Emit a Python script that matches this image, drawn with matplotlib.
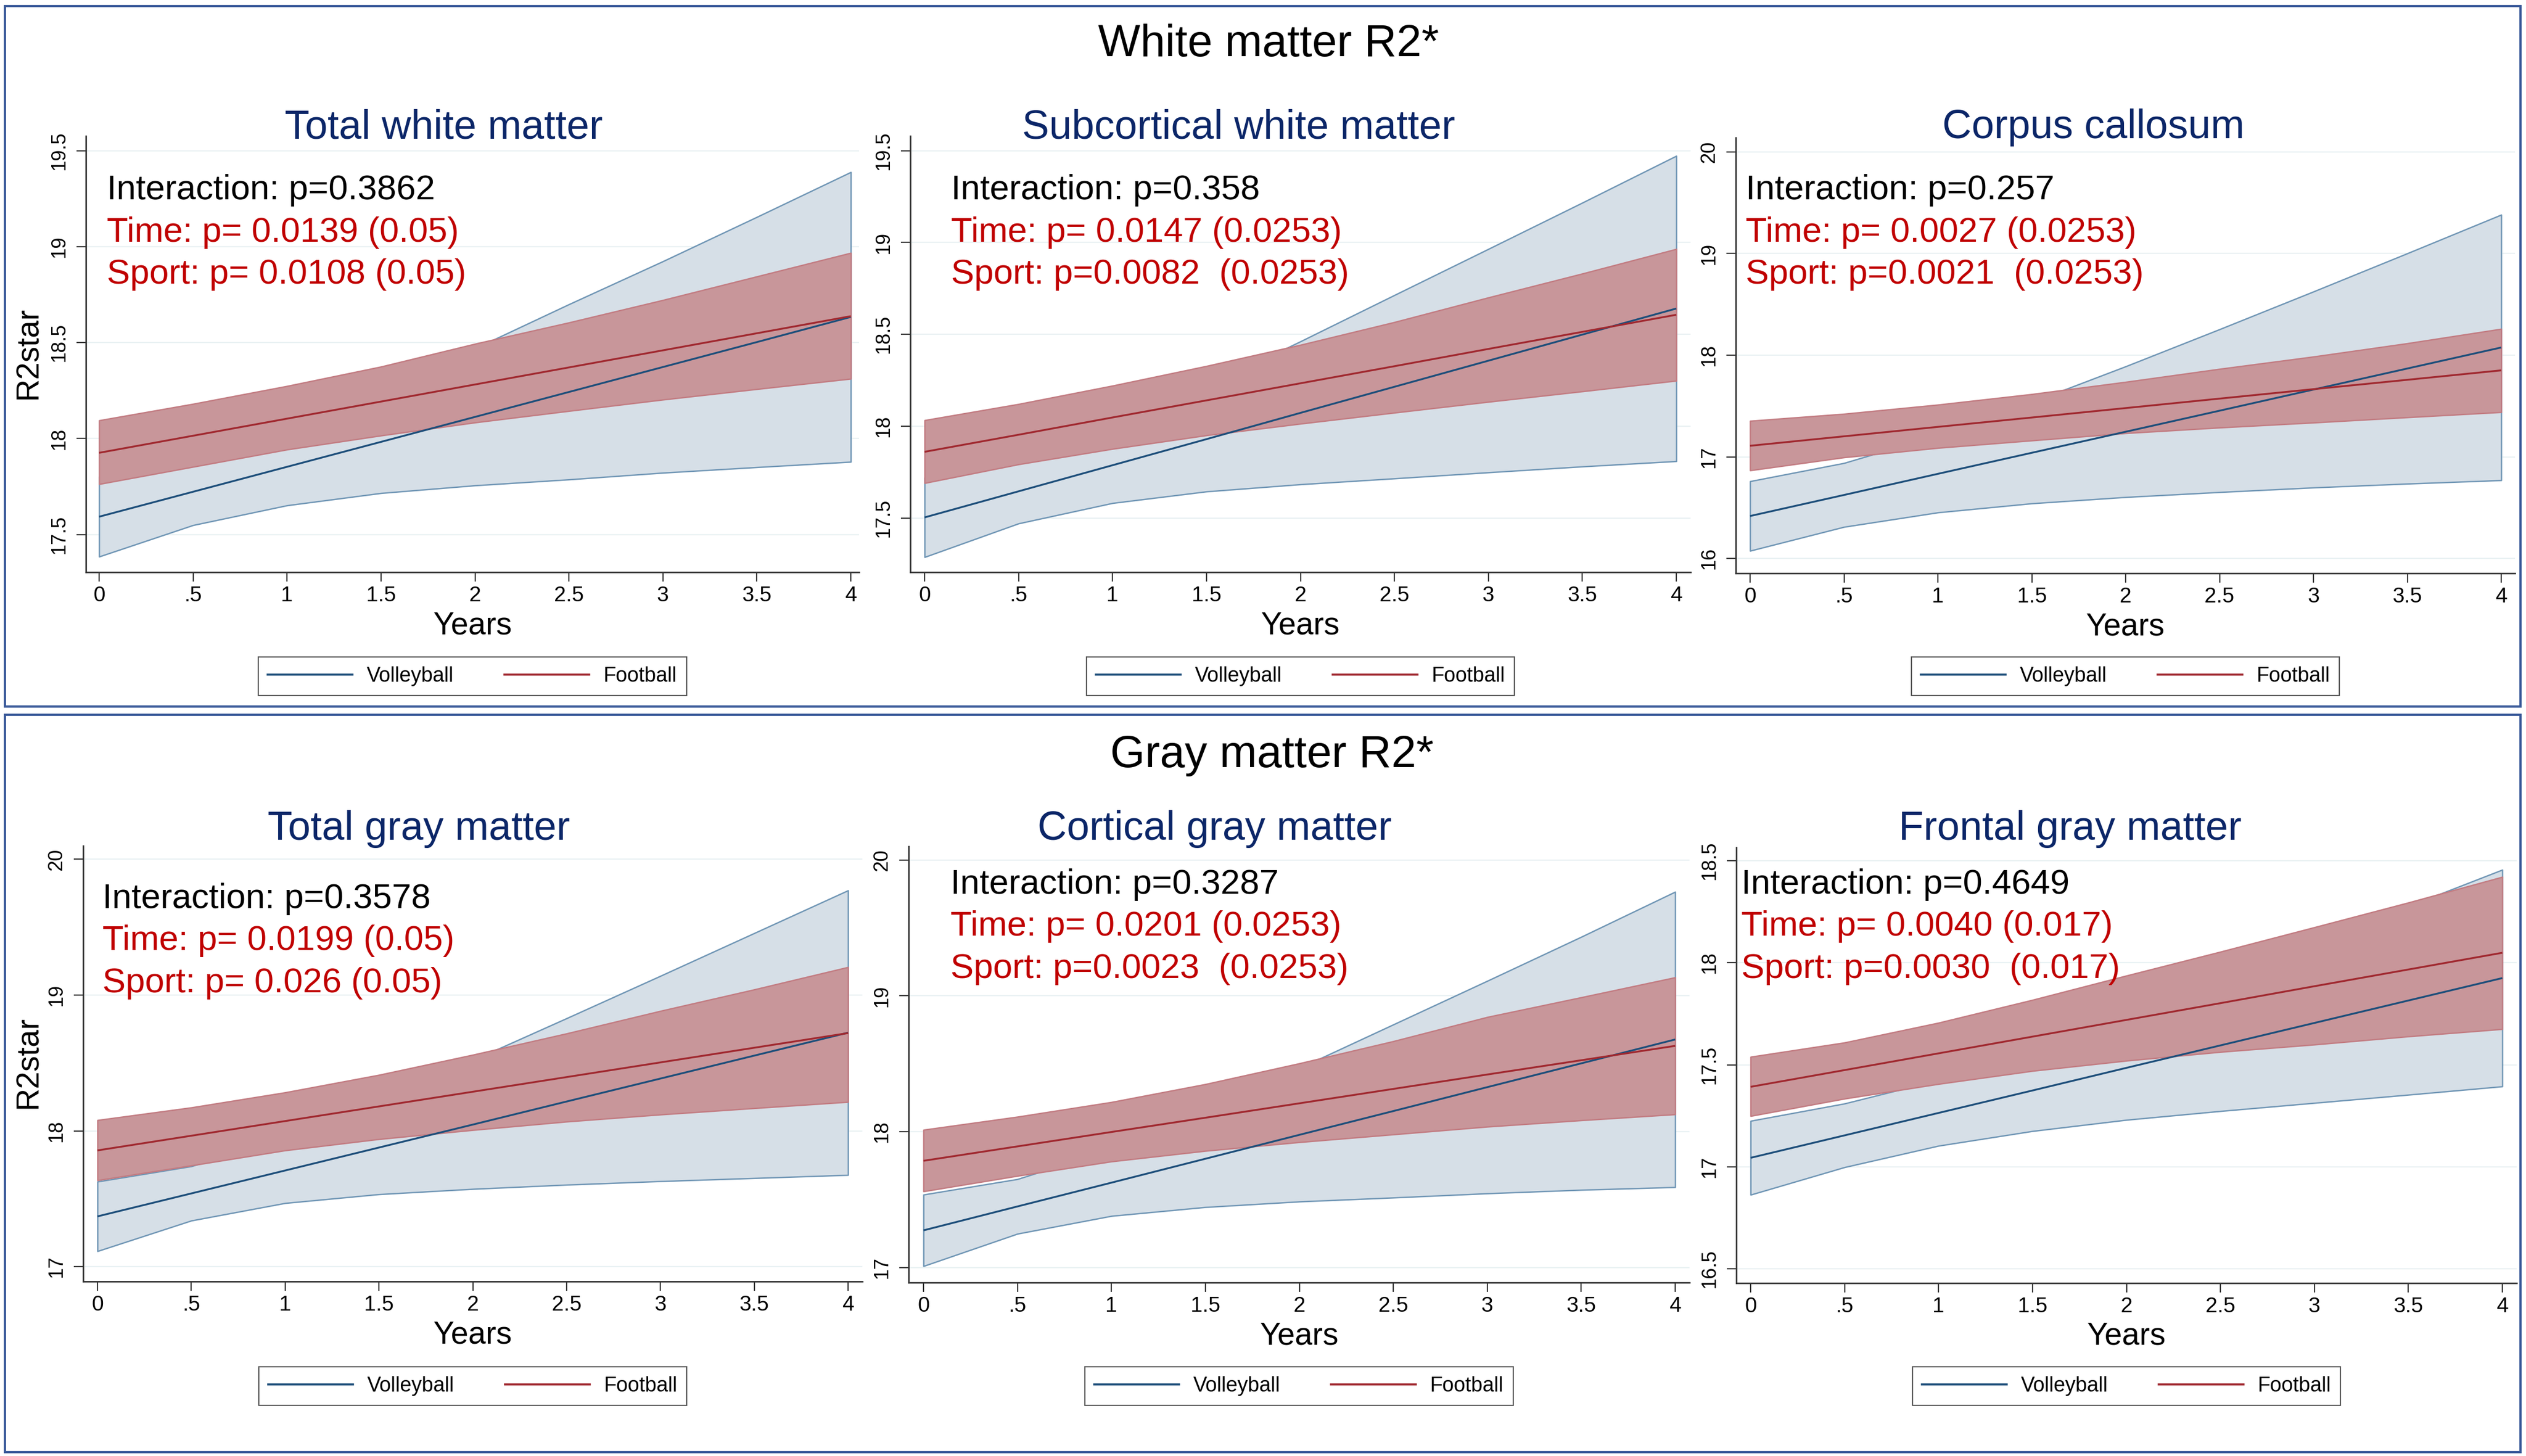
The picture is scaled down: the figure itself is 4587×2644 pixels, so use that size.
import matplotlib
matplotlib.use('Agg')
import matplotlib.pyplot as plt
from matplotlib.lines import Line2D
from matplotlib.patches import Rectangle

plt.rcParams['font.family'] = ['Liberation Sans', 'DejaVu Sans']

# ---------------- data ----------------
years = [0, 0.5, 1, 1.5, 2, 2.5, 3, 3.5, 4]
x_tick_labels = ['0', '.5', '1', '1.5', '2', '2.5', '3', '3.5', '4']
groups = ['Volleyball', 'Football']

# Total white matter
twm_vb_mean = [17.593, 17.723, 17.853, 17.983, 18.113, 18.243, 18.373, 18.503, 18.634]
twm_vb_lo = [17.385, 17.549, 17.652, 17.716, 17.756, 17.787, 17.822, 17.851, 17.879]
twm_vb_hi = [17.801, 17.897, 18.054, 18.250, 18.470, 18.700, 18.924, 19.155, 19.389]
twm_fb_mean = [17.926, 18.015, 18.104, 18.193, 18.282, 18.371, 18.460, 18.549, 18.638]
twm_fb_lo = [17.763, 17.853, 17.943, 18.016, 18.084, 18.144, 18.203, 18.258, 18.312]
twm_fb_hi = [18.095, 18.181, 18.274, 18.375, 18.494, 18.605, 18.722, 18.845, 18.968]
twm_yticks = [17.5, 18, 18.5, 19, 19.5]
twm_ylabels = ['17.5', '18', '18.5', '19', '19.5']
twm_notes = ['Interaction: p=0.3862', 'Time: p= 0.0139 (0.05)', 'Sport: p= 0.0108 (0.05)']

# Subcortical white matter
swm_vb_mean = [17.504, 17.646, 17.788, 17.930, 18.073, 18.215, 18.357, 18.499, 18.641]
swm_vb_lo = [17.288, 17.471, 17.582, 17.645, 17.684, 17.716, 17.749, 17.781, 17.810]
swm_vb_hi = [17.720, 17.821, 17.994, 18.215, 18.462, 18.714, 18.965, 19.217, 19.472]
swm_fb_mean = [17.861, 17.954, 18.048, 18.141, 18.234, 18.327, 18.421, 18.514, 18.607]
swm_fb_lo = [17.691, 17.793, 17.877, 17.951, 18.014, 18.074, 18.133, 18.190, 18.248]
swm_fb_hi = [18.033, 18.121, 18.221, 18.328, 18.443, 18.567, 18.701, 18.831, 18.965]
swm_yticks = [17.5, 18, 18.5, 19, 19.5]
swm_ylabels = ['17.5', '18', '18.5', '19', '19.5']
swm_notes = ['Interaction: p=0.358', 'Time: p= 0.0147 (0.0253)', 'Sport: p=0.0082  (0.0253)']

# Corpus callosum
cc_vb_mean = [16.418, 16.625, 16.833, 17.040, 17.247, 17.454, 17.662, 17.869, 18.076]
cc_vb_lo = [16.076, 16.311, 16.453, 16.542, 16.604, 16.653, 16.698, 16.736, 16.770]
cc_vb_hi = [16.760, 16.939, 17.213, 17.538, 17.890, 18.255, 18.626, 19.002, 19.382]
cc_fb_mean = [17.109, 17.202, 17.295, 17.387, 17.480, 17.573, 17.666, 17.758, 17.851]
cc_fb_lo = [16.867, 16.995, 17.088, 17.161, 17.233, 17.288, 17.337, 17.389, 17.440]
cc_fb_hi = [17.354, 17.423, 17.513, 17.617, 17.737, 17.865, 17.986, 18.117, 18.259]
cc_yticks = [16, 17, 18, 19, 20]
cc_ylabels = ['16', '17', '18', '19', '20']
cc_notes = ['Interaction: p=0.257', 'Time: p= 0.0027 (0.0253)', 'Sport: p=0.0021  (0.0253)']

# Total gray matter
tgm_vb_mean = [17.370, 17.539, 17.708, 17.877, 18.046, 18.216, 18.385, 18.554, 18.723]
tgm_vb_lo = [17.114, 17.339, 17.468, 17.533, 17.572, 17.603, 17.629, 17.652, 17.675]
tgm_vb_hi = [17.626, 17.739, 17.948, 18.221, 18.520, 18.829, 19.141, 19.456, 19.771]
tgm_fb_mean = [17.856, 17.964, 18.072, 18.180, 18.288, 18.396, 18.504, 18.612, 18.720]
tgm_fb_lo = [17.636, 17.745, 17.856, 17.939, 18.006, 18.068, 18.120, 18.167, 18.213]
tgm_fb_hi = [18.079, 18.172, 18.283, 18.412, 18.560, 18.717, 18.883, 19.041, 19.206]
tgm_yticks = [17, 18, 19, 20]
tgm_ylabels = ['17', '18', '19', '20']
tgm_notes = ['Interaction: p=0.3578', 'Time: p= 0.0199 (0.05)', 'Sport: p= 0.026 (0.05)']

# Cortical gray matter
cgm_vb_mean = [17.274, 17.450, 17.625, 17.801, 17.977, 18.152, 18.328, 18.503, 18.679]
cgm_vb_lo = [17.011, 17.249, 17.380, 17.445, 17.486, 17.515, 17.546, 17.572, 17.592]
cgm_vb_hi = [17.537, 17.651, 17.870, 18.157, 18.468, 18.789, 19.110, 19.434, 19.766]
cgm_fb_mean = [17.786, 17.892, 17.998, 18.103, 18.209, 18.315, 18.421, 18.526, 18.632]
cgm_fb_lo = [17.561, 17.675, 17.781, 17.859, 17.923, 17.980, 18.037, 18.084, 18.128]
cgm_fb_hi = [18.014, 18.110, 18.218, 18.350, 18.503, 18.666, 18.844, 18.989, 19.136]
cgm_yticks = [17, 18, 19, 20]
cgm_ylabels = ['17', '18', '19', '20']
cgm_notes = ['Interaction: p=0.3287', 'Time: p= 0.0201 (0.0253)', 'Sport: p=0.0023  (0.0253)']

# Frontal gray matter
fgm_vb_mean = [17.044, 17.154, 17.264, 17.374, 17.485, 17.595, 17.705, 17.815, 17.925]
fgm_vb_lo = [16.863, 16.998, 17.103, 17.175, 17.230, 17.273, 17.313, 17.353, 17.394]
fgm_vb_hi = [17.225, 17.310, 17.425, 17.573, 17.740, 17.917, 18.097, 18.277, 18.456]
fgm_fb_mean = [17.392, 17.474, 17.556, 17.638, 17.720, 17.802, 17.885, 17.967, 18.049]
fgm_fb_lo = [17.249, 17.334, 17.406, 17.470, 17.520, 17.563, 17.599, 17.639, 17.675]
fgm_fb_hi = [17.539, 17.609, 17.706, 17.818, 17.937, 18.054, 18.174, 18.295, 18.421]
fgm_yticks = [16.5, 17, 17.5, 18, 18.5]
fgm_ylabels = ['16.5', '17', '17.5', '18', '18.5']
fgm_notes = ['Interaction: p=0.4649', 'Time: p= 0.0040 (0.017)', 'Sport: p=0.0030  (0.017)']

titles = ['Total white matter', 'Subcortical white matter', 'Corpus callosum',
          'Total gray matter', 'Cortical gray matter', 'Frontal gray matter']
section_titles = ['White matter R2*', 'Gray matter R2*']

# ---------------- layout / style ----------------
W, H = 4587, 2644
fig = plt.figure(figsize=(W / 100, H / 100), dpi=100)
fig.patch.set_facecolor('white')

def fx(x):
    return x / W

def fy(y):
    return 1 - y / H

VB_LINE = '#1D4E7A'
VB_FILL = '#D6DFE7'
VB_EDGE = '#7096B5'
FB_LINE = '#A0282F'
FB_FILL = '#C8969A'
FB_EDGE = '#C27C82'
TITLE_C = '#0B2668'
NOTE_RED = '#C00000'
BOX_C = '#3A5A9A'
AX_C = '#333333'

panels = [
    dict(d=(twm_vb_mean, twm_vb_lo, twm_vb_hi, twm_fb_mean, twm_fb_lo, twm_fb_hi), yt=twm_yticks, yl=twm_ylabels, notes=twm_notes,
         box=(156, 1560, 247, 1039), x0=180, x4=1545, ylim=(17.304, 19.577), tx=806, tb=251, nx=194, nb=362, leg=1228, yb=1152, ylab=True),
    dict(d=(swm_vb_mean, swm_vb_lo, swm_vb_hi, swm_fb_mean, swm_fb_lo, swm_fb_hi), yt=swm_yticks, yl=swm_ylabels, notes=swm_notes,
         box=(1653, 3070, 247, 1039), x0=1679, x4=3044, ylim=(17.206, 19.58), tx=2249, tb=251, nx=1727, nb=362, leg=1228, yb=1152, ylab=False),
    dict(d=(cc_vb_mean, cc_vb_lo, cc_vb_hi, cc_fb_mean, cc_fb_lo, cc_fb_hi), yt=cc_yticks, yl=cc_ylabels, notes=cc_notes,
         box=(3152, 4567, 250, 1041), x0=3178, x4=4542, ylim=(15.855, 20.14), tx=3801, tb=251, nx=3170, nb=362, leg=1228, yb=1153, ylab=False),
    dict(d=(tgm_vb_mean, tgm_vb_lo, tgm_vb_hi, tgm_fb_mean, tgm_fb_lo, tgm_fb_hi), yt=tgm_yticks, yl=tgm_ylabels, notes=tgm_notes,
         box=(151, 1566, 1536, 2327), x0=177, x4=1540, ylim=(16.891, 20.099), tx=761, tb=1525, nx=186, nb=1649, leg=2517, yb=2440, ylab=True),
    dict(d=(cgm_vb_mean, cgm_vb_lo, cgm_vb_hi, cgm_fb_mean, cgm_fb_lo, cgm_fb_hi), yt=cgm_yticks, yl=cgm_ylabels, notes=cgm_notes,
         box=(1650, 3068, 1537, 2329), x0=1677, x4=3042, ylim=(16.89, 20.10), tx=2206, tb=1525, nx=1726, nb=1623, leg=2517, yb=2441, ylab=False),
    dict(d=(fgm_vb_mean, fgm_vb_lo, fgm_vb_hi, fgm_fb_mean, fgm_fb_lo, fgm_fb_hi), yt=fgm_yticks, yl=fgm_ylabels, notes=fgm_notes,
         box=(3153, 4570, 1539, 2330), x0=3179, x4=4544, ylim=(16.43, 18.565), tx=3759, tb=1525, nx=3162, nb=1623, leg=2517, yb=2442, ylab=False),
]

for i, p in enumerate(panels):
    left, right, top, bottom = p['box']
    ax = fig.add_axes([fx(left), fy(bottom), (right - left) / W, (bottom - top) / H])
    per = (p['x4'] - p['x0']) / 4.0
    ax.set_xlim((left - p['x0']) / per, 4 + (right - p['x4']) / per)
    ax.set_ylim(*p['ylim'])
    ax.set_facecolor('white')

    vb_m, vb_lo, vb_hi, fb_m, fb_lo, fb_hi = p['d']
    ax.fill_between(years, vb_lo, vb_hi, facecolor=VB_FILL, edgecolor=VB_EDGE, linewidth=1.8, zorder=2)
    ax.fill_between(years, fb_lo, fb_hi, facecolor=FB_FILL, edgecolor=FB_EDGE, linewidth=1.8, zorder=3)
    ax.plot(years, vb_m, color=VB_LINE, lw=2.4, zorder=4, solid_capstyle='butt')
    ax.plot(years, fb_m, color=FB_LINE, lw=2.4, zorder=5, solid_capstyle='butt')

    ax.set_xticks(years)
    ax.set_xticklabels(x_tick_labels)
    ax.set_yticks(p['yt'])
    ax.set_yticklabels(p['yl'], rotation=90, va='center')
    for yv in p['yt']:
        ax.axhline(yv, color='#E9F1F3', lw=1.6, zorder=1)

    for s in ['top', 'right']:
        ax.spines[s].set_visible(False)
    for s in ['left', 'bottom']:
        ax.spines[s].set_linewidth(2.0)
        ax.spines[s].set_color(AX_C)
    ax.tick_params(axis='both', direction='out', length=12, width=1.6, color=AX_C)
    ax.tick_params(axis='x', labelsize=28, pad=6)
    ax.tick_params(axis='y', labelsize=26, pad=10)

    cx = (left + right) / 2
    fig.text(fx(p['tx']), fy(p['tb']), titles[i], ha='center', va='baseline', fontsize=53, color=TITLE_C)
    fig.text(fx(cx), fy(p['yb']), 'Years', ha='center', va='baseline', fontsize=41, color='black')
    if p['ylab']:
        fig.text(fx(52), fy((top + bottom) / 2 - 2), 'R2star', rotation=90, ha='center', va='center', fontsize=41)
    note_colors = ['black', NOTE_RED, NOTE_RED]
    for k, (txt, c) in enumerate(zip(p['notes'], note_colors)):
        fig.text(fx(p['nx']), fy(p['nb'] + k * 76.5), txt, ha='left', va='baseline', fontsize=45.5, color=c, zorder=10)

    handles = [Line2D([], [], color=VB_LINE, lw=2.6), Line2D([], [], color=FB_LINE, lw=2.6)]
    leg = fig.legend(handles, groups, loc='center', bbox_to_anchor=(fx(cx), fy(p['leg'])), ncol=2,
                     fontsize=27, frameon=True, fancybox=False, shadow=False, framealpha=1,
                     handlelength=4.1, handletextpad=0.7, columnspacing=2.45, borderpad=0.45,
                     borderaxespad=0)
    leg.get_frame().set_edgecolor('#555555')
    leg.get_frame().set_linewidth(1.6)

# section titles
fig.text(fx(2303), fy(102), section_titles[0], ha='center', va='baseline', fontsize=58.5, color='black')
fig.text(fx(2310), fy(1393), section_titles[1], ha='center', va='baseline', fontsize=58.5, color='black')

# outer boxes
fig.add_artist(Rectangle((fx(9), fy(1283)), (4577 - 9) / W, (1283 - 11) / H, transform=fig.transFigure,
                         fill=False, edgecolor=BOX_C, linewidth=3.0))
fig.add_artist(Rectangle((fx(9), fy(2637)), (4577 - 9) / W, (2637 - 1298) / H, transform=fig.transFigure,
                         fill=False, edgecolor=BOX_C, linewidth=3.0))

fig.savefig('out.png', dpi=100, facecolor='white')
